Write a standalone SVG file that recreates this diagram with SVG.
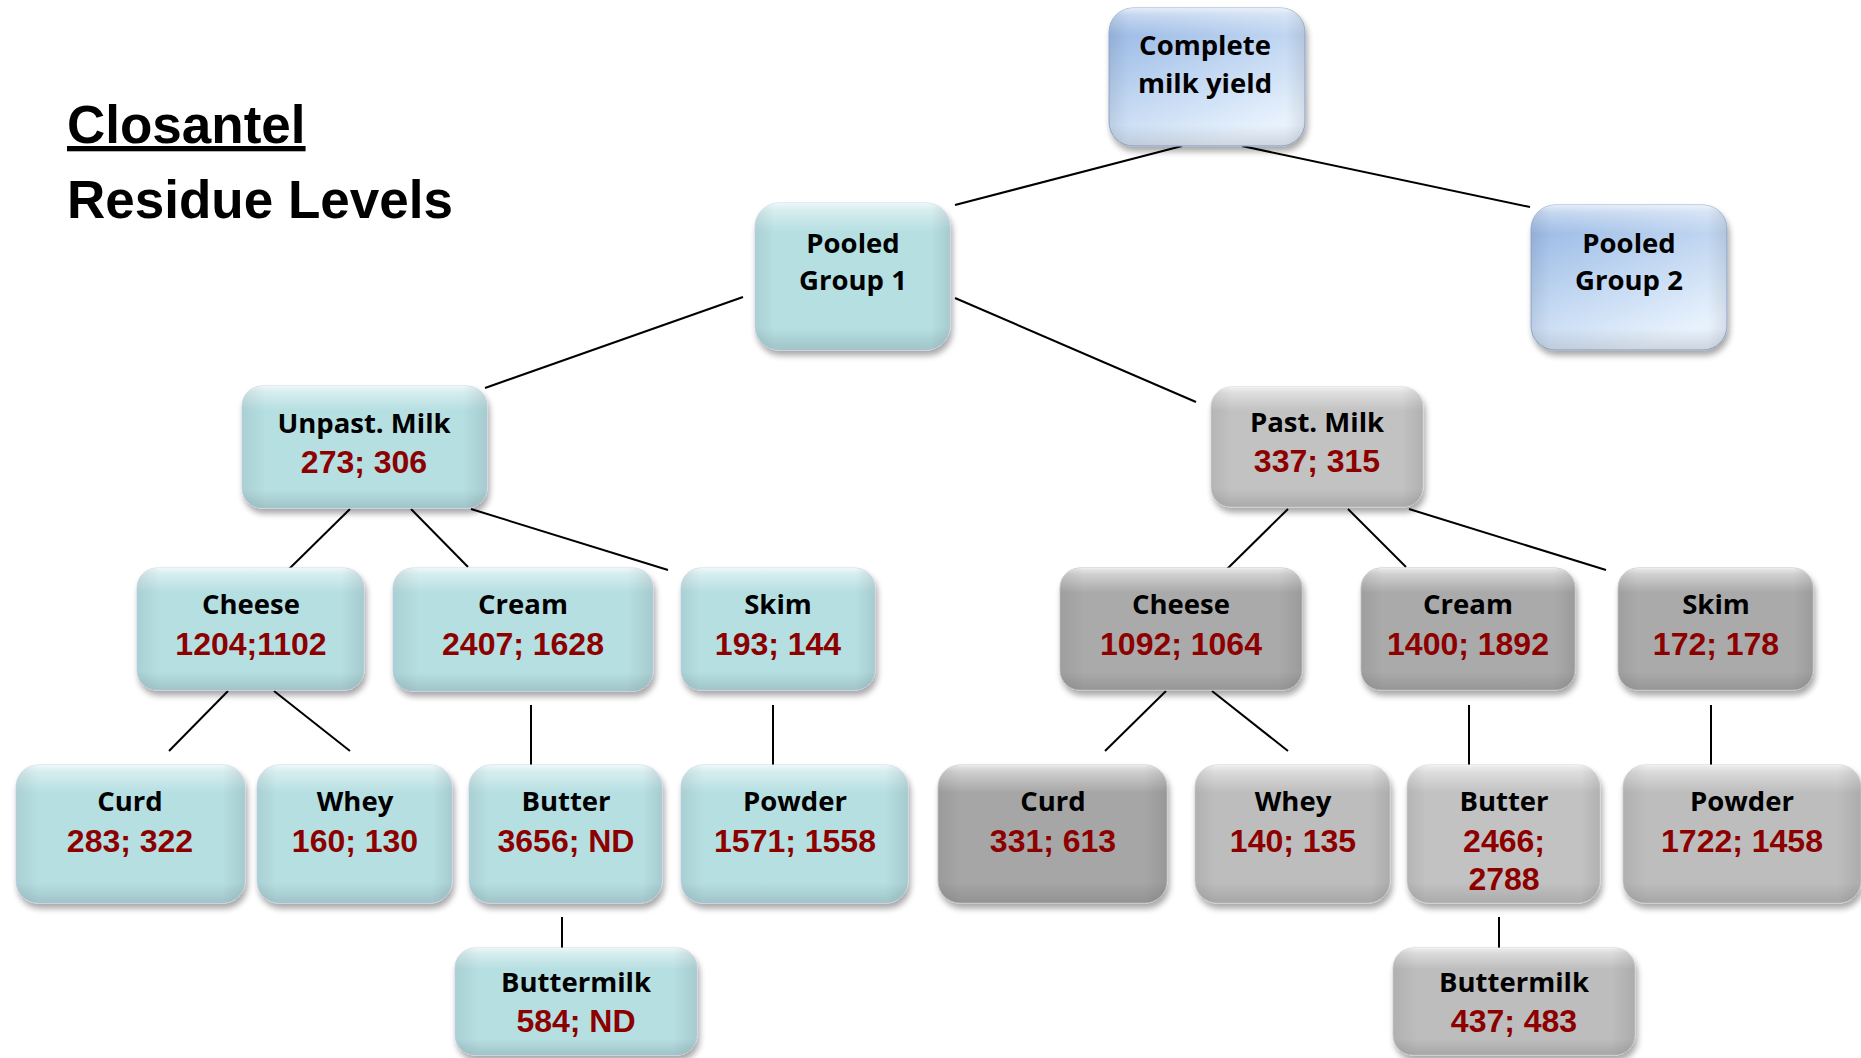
<svg xmlns="http://www.w3.org/2000/svg" width="1861" height="1058" viewBox="0 0 1861 1058">
<defs>
<filter id="sh" x="-10%" y="-10%" width="125%" height="130%">
<feGaussianBlur in="SourceAlpha" stdDeviation="3"/>
<feOffset dx="2" dy="5" result="b"/>
<feComponentTransfer><feFuncA type="linear" slope="0.35"/></feComponentTransfer>
<feMerge><feMergeNode/><feMergeNode in="SourceGraphic"/></feMerge>
</filter>
<linearGradient id="gv" x1="0" y1="0" x2="0" y2="1">
<stop offset="0" stop-color="#fff" stop-opacity="0.75"/>
<stop offset="0.05" stop-color="#fff" stop-opacity="0.45"/>
<stop offset="0.2" stop-color="#fff" stop-opacity="0"/>
<stop offset="0.85" stop-color="#000" stop-opacity="0"/>
<stop offset="1" stop-color="#000" stop-opacity="0.12"/>
</linearGradient>
<linearGradient id="gh" x1="0" y1="0" x2="1" y2="0">
<stop offset="0" stop-color="#000" stop-opacity="0.07"/>
<stop offset="0.1" stop-color="#000" stop-opacity="0"/>
<stop offset="0.9" stop-color="#000" stop-opacity="0"/>
<stop offset="1" stop-color="#000" stop-opacity="0.09"/>
</linearGradient>
<linearGradient id="gblue" x1="0" y1="0" x2="0.55" y2="1">
<stop offset="0" stop-color="#8fb1e1"/>
<stop offset="0.5" stop-color="#bcd3f0"/>
<stop offset="1" stop-color="#e8f2fd"/>
</linearGradient>
<style>
.teal{fill:#b6dfe2;stroke:#c9d8ee;stroke-width:1}
.blue{fill:url(#gblue);stroke:#94acd0;stroke-width:1}
.g1{fill:#c2c2c2;stroke:#d4d4d4;stroke-width:1}
.g2{fill:#aaaaaa;stroke:#c4c4c4;stroke-width:1}
.g3{fill:#a6a6a6;stroke:#c4c4c4;stroke-width:1}
.g4{fill:#bdbdbd;stroke:#d0d0d0;stroke-width:1}
.ov{fill:url(#gv)}
.oh{fill:url(#gh)}
.lbl{font-family:"Open Sans","Noto Sans",sans-serif;font-weight:700;font-size:27.5px;fill:#000;text-anchor:middle}
.num{font-family:"Liberation Sans",Arial,sans-serif;font-weight:700;font-size:32px;fill:#8c0000;text-anchor:middle}
.title{font-family:"Liberation Sans",Arial,sans-serif;font-weight:700;font-size:53px;fill:#000}
#connectors line{stroke:#000;stroke-width:2}
</style>
</defs>
<rect width="1861" height="1058" fill="#fff"/>

<g id="title">
<text x="67" y="143" class="title" text-decoration="underline">Closantel</text>
<text x="67" y="218" class="title">Residue Levels</text>
</g>

<g id="connectors">
<line x1="1182" y1="146" x2="955" y2="205"/>
<line x1="1242" y1="146" x2="1530" y2="207"/>
<line x1="743" y1="297" x2="485" y2="388"/>
<line x1="955" y1="298" x2="1196" y2="402"/>
<line x1="350" y1="509" x2="288" y2="570"/>
<line x1="411" y1="509" x2="468" y2="567"/>
<line x1="471" y1="509" x2="668" y2="570"/>
<line x1="1288" y1="509" x2="1226" y2="570"/>
<line x1="1348" y1="509" x2="1406" y2="567"/>
<line x1="1409" y1="509" x2="1606" y2="570"/>
<line x1="228" y1="691" x2="169" y2="751"/>
<line x1="274" y1="691" x2="350" y2="751"/>
<line x1="531" y1="705" x2="531" y2="766"/>
<line x1="773" y1="705" x2="773" y2="766"/>
<line x1="562" y1="917" x2="562" y2="948"/>
<line x1="1166" y1="691" x2="1105" y2="751"/>
<line x1="1212" y1="691" x2="1288" y2="751"/>
<line x1="1469" y1="705" x2="1469" y2="766"/>
<line x1="1711" y1="705" x2="1711" y2="766"/>
<line x1="1499" y1="917" x2="1499" y2="948"/>
</g>

<g id="n-complete">
<rect x="1109" y="8" width="196" height="138" rx="24" class="blue" filter="url(#sh)"/>
<rect x="1109" y="8" width="196" height="138" rx="24" class="ov"/>
<rect x="1109" y="8" width="196" height="138" rx="24" class="oh"/>
<text x="1205" y="55" class="lbl">Complete</text>
<text x="1205" y="93" class="lbl">milk yield</text>
</g>

<g id="n-pooled1">
<rect x="755" y="203" width="195" height="147" rx="24" class="teal" filter="url(#sh)"/>
<rect x="755" y="203" width="195" height="147" rx="24" class="ov"/>
<rect x="755" y="203" width="195" height="147" rx="24" class="oh"/>
<text x="853" y="253" class="lbl">Pooled</text>
<text x="853" y="290" class="lbl">Group 1</text>
</g>

<g id="n-pooled2">
<rect x="1531" y="205" width="196" height="145" rx="24" class="blue" filter="url(#sh)"/>
<rect x="1531" y="205" width="196" height="145" rx="24" class="ov"/>
<rect x="1531" y="205" width="196" height="145" rx="24" class="oh"/>
<text x="1629" y="253" class="lbl">Pooled</text>
<text x="1629" y="290" class="lbl">Group 2</text>
</g>

<g id="n-unpast">
<rect x="242" y="386" width="245" height="122" rx="20" class="teal" filter="url(#sh)"/>
<rect x="242" y="386" width="245" height="122" rx="20" class="ov"/>
<rect x="242" y="386" width="245" height="122" rx="20" class="oh"/>
<text x="364" y="433" class="lbl">Unpast. Milk</text>
<text x="364" y="473" class="num">273; 306</text>
</g>

<g id="n-past">
<rect x="1211" y="387" width="212" height="120" rx="20" class="g1" filter="url(#sh)"/>
<rect x="1211" y="387" width="212" height="120" rx="20" class="ov"/>
<rect x="1211" y="387" width="212" height="120" rx="20" class="oh"/>
<text x="1317" y="432" class="lbl">Past. Milk</text>
<text x="1317" y="472" class="num">337; 315</text>
</g>

<g id="n-cheese-l">
<rect x="137" y="568" width="227" height="122" rx="20" class="teal" filter="url(#sh)"/>
<rect x="137" y="568" width="227" height="122" rx="20" class="ov"/>
<rect x="137" y="568" width="227" height="122" rx="20" class="oh"/>
<text x="251" y="614" class="lbl">Cheese</text>
<text x="251" y="655" class="num">1204;1102</text>
</g>

<g id="n-cream-l">
<rect x="393" y="568" width="260" height="123" rx="20" class="teal" filter="url(#sh)"/>
<rect x="393" y="568" width="260" height="123" rx="20" class="ov"/>
<rect x="393" y="568" width="260" height="123" rx="20" class="oh"/>
<text x="523" y="614" class="lbl">Cream</text>
<text x="523" y="655" class="num">2407; 1628</text>
</g>

<g id="n-skim-l">
<rect x="681" y="568" width="194" height="122" rx="20" class="teal" filter="url(#sh)"/>
<rect x="681" y="568" width="194" height="122" rx="20" class="ov"/>
<rect x="681" y="568" width="194" height="122" rx="20" class="oh"/>
<text x="778" y="614" class="lbl">Skim</text>
<text x="778" y="655" class="num">193; 144</text>
</g>

<g id="n-cheese-r">
<rect x="1060" y="568" width="242" height="122" rx="20" class="g2" filter="url(#sh)"/>
<rect x="1060" y="568" width="242" height="122" rx="20" class="ov"/>
<rect x="1060" y="568" width="242" height="122" rx="20" class="oh"/>
<text x="1181" y="614" class="lbl">Cheese</text>
<text x="1181" y="655" class="num">1092; 1064</text>
</g>

<g id="n-cream-r">
<rect x="1361" y="568" width="214" height="122" rx="20" class="g2" filter="url(#sh)"/>
<rect x="1361" y="568" width="214" height="122" rx="20" class="ov"/>
<rect x="1361" y="568" width="214" height="122" rx="20" class="oh"/>
<text x="1468" y="614" class="lbl">Cream</text>
<text x="1468" y="655" class="num">1400; 1892</text>
</g>

<g id="n-skim-r">
<rect x="1618" y="568" width="195" height="122" rx="20" class="g2" filter="url(#sh)"/>
<rect x="1618" y="568" width="195" height="122" rx="20" class="ov"/>
<rect x="1618" y="568" width="195" height="122" rx="20" class="oh"/>
<text x="1716" y="614" class="lbl">Skim</text>
<text x="1716" y="655" class="num">172; 178</text>
</g>

<g id="n-curd-l">
<rect x="16" y="765" width="229" height="138" rx="22" class="teal" filter="url(#sh)"/>
<rect x="16" y="765" width="229" height="138" rx="22" class="ov"/>
<rect x="16" y="765" width="229" height="138" rx="22" class="oh"/>
<text x="130" y="811" class="lbl">Curd</text>
<text x="130" y="852" class="num">283; 322</text>
</g>

<g id="n-whey-l">
<rect x="257" y="765" width="195" height="138" rx="22" class="teal" filter="url(#sh)"/>
<rect x="257" y="765" width="195" height="138" rx="22" class="ov"/>
<rect x="257" y="765" width="195" height="138" rx="22" class="oh"/>
<text x="355" y="811" class="lbl">Whey</text>
<text x="355" y="852" class="num">160; 130</text>
</g>

<g id="n-butter-l">
<rect x="469" y="765" width="193" height="138" rx="22" class="teal" filter="url(#sh)"/>
<rect x="469" y="765" width="193" height="138" rx="22" class="ov"/>
<rect x="469" y="765" width="193" height="138" rx="22" class="oh"/>
<text x="566" y="811" class="lbl">Butter</text>
<text x="566" y="852" class="num">3656; ND</text>
</g>

<g id="n-powder-l">
<rect x="681" y="765" width="227" height="138" rx="22" class="teal" filter="url(#sh)"/>
<rect x="681" y="765" width="227" height="138" rx="22" class="ov"/>
<rect x="681" y="765" width="227" height="138" rx="22" class="oh"/>
<text x="795" y="811" class="lbl">Powder</text>
<text x="795" y="852" class="num">1571; 1558</text>
</g>

<g id="n-curd-r">
<rect x="938" y="765" width="229" height="138" rx="22" class="g3" filter="url(#sh)"/>
<rect x="938" y="765" width="229" height="138" rx="22" class="ov"/>
<rect x="938" y="765" width="229" height="138" rx="22" class="oh"/>
<text x="1053" y="811" class="lbl">Curd</text>
<text x="1053" y="852" class="num">331; 613</text>
</g>

<g id="n-whey-r">
<rect x="1195" y="765" width="195" height="138" rx="22" class="g4" filter="url(#sh)"/>
<rect x="1195" y="765" width="195" height="138" rx="22" class="ov"/>
<rect x="1195" y="765" width="195" height="138" rx="22" class="oh"/>
<text x="1293" y="811" class="lbl">Whey</text>
<text x="1293" y="852" class="num">140; 135</text>
</g>

<g id="n-butter-r">
<rect x="1407" y="765" width="193" height="138" rx="22" class="g1" filter="url(#sh)"/>
<rect x="1407" y="765" width="193" height="138" rx="22" class="ov"/>
<rect x="1407" y="765" width="193" height="138" rx="22" class="oh"/>
<text x="1504" y="811" class="lbl">Butter</text>
<text x="1504" y="852" class="num">2466;</text>
<text x="1504" y="890" class="num">2788</text>
</g>

<g id="n-powder-r">
<rect x="1623" y="765" width="238" height="138" rx="22" class="g4" filter="url(#sh)"/>
<rect x="1623" y="765" width="238" height="138" rx="22" class="ov"/>
<rect x="1623" y="765" width="238" height="138" rx="22" class="oh"/>
<text x="1742" y="811" class="lbl">Powder</text>
<text x="1742" y="852" class="num">1722; 1458</text>
</g>

<g id="n-buttermilk-l">
<rect x="455" y="948" width="242" height="107" rx="20" class="teal" filter="url(#sh)"/>
<rect x="455" y="948" width="242" height="107" rx="20" class="ov"/>
<rect x="455" y="948" width="242" height="107" rx="20" class="oh"/>
<text x="576" y="992" class="lbl">Buttermilk</text>
<text x="576" y="1032" class="num">584; ND</text>
</g>

<g id="n-buttermilk-r">
<rect x="1393" y="948" width="242" height="107" rx="20" class="g4" filter="url(#sh)"/>
<rect x="1393" y="948" width="242" height="107" rx="20" class="ov"/>
<rect x="1393" y="948" width="242" height="107" rx="20" class="oh"/>
<text x="1514" y="992" class="lbl">Buttermilk</text>
<text x="1514" y="1032" class="num">437; 483</text>
</g>
</svg>
